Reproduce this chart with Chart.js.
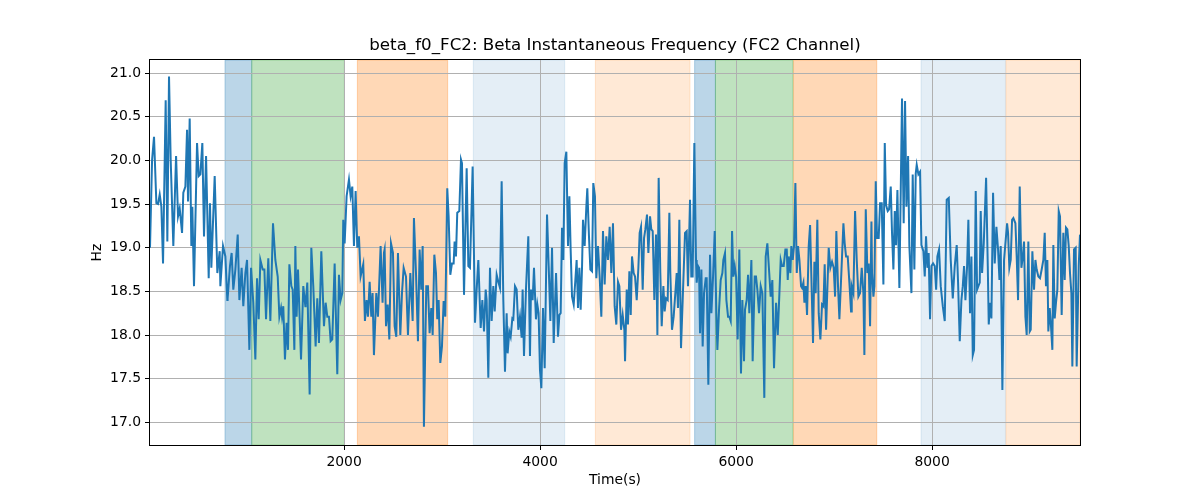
<!DOCTYPE html>
<html>
<head>
<meta charset="utf-8">
<script src="https://cdn.jsdelivr.net/npm/chart.js@4.4.1/dist/chart.umd.min.js"></script>
<style>
    html, body { margin: 0; padding: 0; background: #fff; }
    #wrap { width: 1200px; height: 500px; }
</style>
</head>
<body>
<div id="wrap"><canvas id="freqChart" width="1200" height="500"></canvas></div>
<script>
// sample times (s)
var timeSec = [
    20,41,61,85,102,119,136,153,180,197,214,231,258,286,306,323,347,360,381,398,408,425,442,452,469,500,517,534,554,571,592,619,632,646,680,707,731,738,765,789,809,
    812,836,853,870,891,915,932,955,972,993,1010,1034,1051,1074,1095,1112,1129,1146,1170,1187,1204,1227,1248,1275,1299,1323,1340,1357,1367,1380,1397,1414,1428,1442,1462,1476,1493,1503,1516,1530,1544,1561,1584,1605,
    1608,1625,1649,1666,1686,1710,1727,1744,1768,1795,1812,1829,1846,1863,1880,1904,1931,1948,1965,1982,1992,2006,2026,2050,2067,2084,2101,2118,2135,2152,2169,2196,2213,2230,2244,2261,2278,2291,2305,2329,2346,2373,2393,2407,
    2414,2428,2445,2462,2479,2499,2516,2533,2550,2574,2591,2608,2632,2652,2676,2700,2713,2734,2754,2771,2788,2802,2815,2839,2856,2873,2890,2904,2921,2938,2951,2965,2982,2999,3016,3033,3053,3067,3084,3101,3118,3128,3142,3155,3176,3193,
    3203,3224,3251,3268,3285,3312,3336,3353,3370,3394,3411,3428,3445,3455,3472,3489,3506,3523,3537,3557,3574,3591,3608,3625,3642,3659,3669,3686,3700,3717,3727,3744,3761,3778,3795,3812,3822,3836,3856,3880,3897,3907,3924,3938,3958,3972,3985,3999,
    4013,4030,4047,4071,4088,4105,4122,4139,4163,4183,4197,4210,4224,4237,4251,4268,4285,4299,4312,4326,4343,4360,4373,4387,4401,4414,4428,4438,4455,4472,4482,4499,4513,4530,4543,4560,4574,4591,4608,4625,4642,4659,4676,4693,4710,4727,4744,4761,4778,4795,
    4809,4826,4843,4860,4867,4884,4897,4911,4925,4938,4955,4969,4986,5003,5016,5030,5047,5061,5074,5091,5105,5122,5135,5149,5166,5183,5197,5210,5227,5241,5258,5271,5285,5302,5319,5329,5346,5363,5380,5394,5407,5421,5438,5455,5479,5496,5509,5530,5543,5557,5574,5591,
    5598,5612,5622,5632,5646,5659,5673,5690,5700,5717,5734,5748,5765,5782,5799,5809,5826,5843,5860,5870,5887,5901,5918,5931,5945,5959,5972,5986,6000,6016,6033,6050,6064,6081,6091,6108,6122,6135,6156,6169,6190,6203,6217,6234,6251,6268,6288,6302,6319,6336,6353,6370,6387,
    6408,6425,6442,6455,6469,6486,6503,6517,6527,6537,6554,6564,6578,6591,6605,6619,6632,6646,6663,6673,6687,6697,6710,6724,6741,6755,6768,6785,6799,6812,6829,6843,6860,6877,6891,6904,6918,6931,6945,6962,6979,6996,7010,7023,7040,7054,7074,7095,7108,7122,7139,7156,7173,
    7180,7197,7214,7231,7248,7265,7282,7299,7309,7323,7340,7353,7367,7381,7387,7401,7411,7425,7438,7455,7469,7486,7503,7517,7530,7547,7561,7578,7591,7605,7619,7632,7646,7666,7680,7693,7710,7724,7738,7755,7768,7789,7802,7819,7833,7843,7860,7877,7891,7911,7925,7938,7952,7965,7979,
    7993,8010,8027,8041,8054,8071,8088,8109,8129,8149,8170,8190,8211,8231,8251,8265,8282,8299,8313,8326,8340,8357,8370,8387,8401,8415,8428,8445,8459,8472,8486,8496,8510,8527,8551,8568,8578,8591,8605,8622,8639,8656,8673,8687,8700,8717,8734,8751,8765,8775,
    8788,8802,8816,8829,8850,8863,8877,8894,8911,8924,8938,8952,8965,8982,8996,9006,9023,9040,9054,9067,9084,9101,9118,9135,9149,9162,9176,9186,9200,9213,9227,9237,9251,9264,9278,9292,9305,9322,9339,9353,9366,9380,9394,9407,9421,9431,9448,9465,9475,9496,9509
];

// beta instantaneous frequency (Hz)
var freqHz = [
    19.0,20.0,20.27,19.51,19.5,19.61,19.47,18.82,20.69,19.07,20.96,20.01,19.02,20.05,19.36,19.45,19.17,19.63,19.70,20.35,19.53,20.48,19.02,19.47,18.56,20.20,19.82,19.84,20.20,19.13,20.05,18.65,19.51,18.77,19.82,18.71,18.96,18.56,19.02,18.90,18.40,
    18.42,18.79,18.94,18.52,18.75,19.15,18.40,18.77,18.33,18.71,18.86,17.83,18.77,18.37,17.72,18.65,18.18,18.86,18.75,18.75,18.18,18.88,18.16,19.28,18.86,18.67,18.21,18.31,18.21,18.33,17.72,18.14,17.83,18.81,18.56,18.52,17.83,19.02,18.21,18.75,18.29,17.72,18.56,18.33,
    18.35,18.60,17.32,19.00,18.56,17.87,18.42,17.91,18.96,18.10,18.37,18.21,18.21,17.93,17.95,18.82,17.55,18.69,18.40,18.48,19.32,19.05,19.59,19.78,19.59,19.70,19.02,19.65,19.00,19.13,18.67,18.81,18.16,18.40,18.21,18.61,18.21,18.48,17.77,18.48,18.21,19.02,18.37,18.94,
    18.98,18.10,18.35,17.95,19.05,18.94,18.10,17.98,18.94,18.00,18.48,18.77,18.67,18.00,18.71,18.16,19.34,18.71,17.93,18.98,18.52,19.02,16.95,18.56,18.56,18.02,18.31,18.00,18.92,18.71,18.18,18.40,17.68,17.87,18.39,18.21,19.68,19.36,18.69,18.82,18.82,19.07,18.90,19.40,19.42,20.01,
    19.97,18.46,19.91,18.79,18.77,19.93,18.14,18.52,18.86,18.08,18.40,18.04,18.52,18.40,17.51,18.77,18.16,18.56,18.27,18.69,18.61,18.54,19.76,18.40,17.58,18.25,17.79,18.04,17.98,18.19,18.18,18.56,18.52,18.06,18.21,17.97,18.52,17.76,18.52,19.13,17.76,18.52,18.40,18.77,18.18,18.35,18.25,17.60,
    17.39,18.31,17.62,19.38,18.79,18.16,19.00,17.91,18.71,17.98,18.23,18.25,19.23,18.86,19.97,20.10,19.02,19.59,18.98,18.44,18.35,18.63,18.86,18.31,18.77,18.29,18.77,19.32,19.02,19.47,19.68,19.13,18.75,18.73,19.74,19.59,18.65,19.02,18.67,18.21,19.19,18.58,19.13,18.86,19.24,18.71,19.28,18.33,18.12,18.61,
    18.56,18.06,18.23,18.06,17.70,18.52,18.12,18.73,18.23,18.90,18.71,18.67,18.40,18.77,19.17,19.24,18.52,19.11,19.21,19.38,18.94,19.36,19.21,19.19,18.40,19.15,18.00,19.80,18.71,18.10,18.56,18.27,18.42,18.40,19.40,18.71,18.06,18.21,18.48,18.71,18.31,19.32,17.85,18.40,19.17,19.19,18.56,19.55,18.67,18.67,20.20,18.86,
    18.60,18.79,18.77,18.02,18.75,17.87,18.48,18.65,18.65,17.43,18.92,18.25,18.67,19.19,18.25,17.83,18.29,18.63,18.71,18.86,18.94,18.40,18.21,18.21,18.16,19.19,18.67,18.79,18.67,17.95,18.98,17.56,18.40,17.70,18.29,18.40,18.69,18.25,18.86,17.70,18.67,18.67,18.52,18.25,18.56,18.48,17.28,18.90,19.05,18.75,18.44,18.63,17.62,
    18.37,18.00,18.48,18.86,18.79,18.79,18.98,18.98,18.63,18.90,18.71,19.02,18.86,19.02,19.74,18.71,19.02,18.86,18.56,18.54,18.60,18.37,18.56,18.23,19.02,19.26,18.67,17.91,18.84,18.48,19.32,18.25,17.95,18.35,18.33,18.81,18.06,18.52,19.00,18.77,18.84,18.77,18.44,19.19,18.56,18.18,18.71,19.28,19.05,18.90,18.90,18.60,18.27,
    18.56,18.48,19.42,18.86,18.44,18.48,18.77,18.48,17.77,19.44,18.71,18.82,18.10,19.30,18.71,18.44,18.56,19.76,19.11,19.11,19.51,19.51,18.58,20.20,19.49,19.42,19.44,19.70,19.17,18.75,19.42,19.03,19.66,18.54,19.65,20.71,19.28,20.68,19.47,20.05,19.02,18.48,19.84,18.75,19.85,19.95,19.84,19.87,19.03,18.96,18.67,19.13,18.77,18.94,18.18,
    18.79,18.82,18.79,18.52,18.90,18.98,18.56,18.33,18.16,19.55,19.57,18.86,18.42,18.79,19.03,18.60,17.93,18.40,18.56,18.79,18.40,18.79,19.32,18.25,18.90,17.77,17.83,19.65,18.52,18.56,18.60,19.42,18.71,19.05,19.80,18.79,18.12,18.37,18.19,19.63,18.82,19.24,18.98,18.63,19.02,17.37,18.86,19.09,19.28,19.17,
    18.77,18.86,19.32,19.34,19.28,18.90,18.40,19.70,18.77,18.88,19.07,18.21,18.00,19.07,18.04,18.06,18.96,18.52,18.86,18.75,18.67,18.65,18.75,18.86,19.17,18.56,18.86,18.04,18.31,18.10,17.83,19.03,18.19,18.37,18.52,19.42,19.36,18.23,19.17,18.63,19.23,19.21,19.02,18.71,18.48,17.64,18.98,19.00,17.64,18.79,19.15
];

// axis ticks
var timeTicks = [2000, 4000, 6000, 8000];
var hzTicks = [17.0, 17.5, 18.0, 18.5, 19.0, 19.5, 20.0, 20.5, 21.0];

// shaded phases (s)
var spanStart = [785, 1058, 2136, 3319, 4564, 5577, 5789, 6586, 7887, 8753];
var spanEnd   = [1058, 2003, 3057, 4251, 5530, 5789, 6581, 7435, 8748, 9509];
var spanColors = [
    'rgba(31, 119, 180, 0.3)', 'rgba(44, 160, 44, 0.3)', 'rgba(255, 127, 14, 0.3)',
    'rgba(31, 119, 180, 0.12)', 'rgba(255, 127, 14, 0.17)',
    'rgba(31, 119, 180, 0.3)', 'rgba(44, 160, 44, 0.3)', 'rgba(255, 127, 14, 0.3)',
    'rgba(31, 119, 180, 0.12)', 'rgba(255, 127, 14, 0.17)'
];

var points = [];
for (var i = 0; i < timeSec.length; i++) {
    points.push({ x: timeSec[i], y: freqHz[i] });
}

var fontFamily = '"DejaVu Sans", sans-serif';
Chart.defaults.color = '#000';
Chart.defaults.font.family = fontFamily;

var spansPlugin = {
    id: 'spans',
    beforeDraw: function (chart) {
        var ctx = chart.ctx, a = chart.chartArea, xs = chart.scales.x;
        ctx.save();
        ctx.beginPath();
        ctx.rect(a.left, a.top, a.right - a.left, a.bottom - a.top);
        ctx.clip();
        for (var k = 0; k < spanStart.length; k++) {
            var x0 = xs.getPixelForValue(spanStart[k]);
            var x1 = xs.getPixelForValue(spanEnd[k]);
            ctx.fillStyle = spanColors[k];
            ctx.fillRect(x0, a.top, x1 - x0, a.bottom - a.top);
            ctx.strokeStyle = spanColors[k];
            ctx.lineWidth = 1;
            ctx.strokeRect(x0, a.top, x1 - x0, a.bottom - a.top);
        }
        ctx.restore();
    },
    afterDraw: function (chart) {
        var ctx = chart.ctx, a = chart.chartArea;
        ctx.save();
        ctx.strokeStyle = '#000';
        ctx.lineWidth = 1;
        ctx.strokeRect(Math.round(a.left) - 0.5, Math.round(a.top) - 0.5,
            Math.round(a.right - a.left) + 1, Math.round(a.bottom - a.top) + 1);
        ctx.restore();
    }
};

function fixedTicks(list) {
    return function (scale) {
        scale.ticks = list.map(function (v) { return { value: v }; });
    };
}

var freqChart = new Chart(document.getElementById('freqChart'), {
    type: 'line',
    data: {
        datasets: [{
            label: 'beta_f0_FC2',
            data: points,
            borderColor: '#1f77b4',
            borderWidth: 2,
            pointRadius: 0,
            fill: false,
            tension: 0
        }]
    },
    options: {
        responsive: false,
        animation: false,
        devicePixelRatio: 1,
        layout: { padding: { left: 85, right: 120, top: 0, bottom: 7 } },
        plugins: {
            legend: { display: false },
            tooltip: { enabled: false },
            title: {
                display: true,
                text: 'beta_f0_FC2: Beta Instantaneous Frequency (FC2 Channel)',
                fullSize: false,
                color: '#000',
                font: { family: fontFamily, size: 16.7, weight: 'normal' },
                padding: { top: 36, bottom: 4 }
            }
        },
        scales: {
            x: {
                type: 'linear',
                min: 20,
                max: 9509,
                afterBuildTicks: fixedTicks(timeTicks),
                afterFit: function (s) { s.height = 48; },
                grid: { color: '#b0b0b0', lineWidth: 1, tickLength: 5, tickColor: '#000' },
                border: { display: false },
                ticks: {
                    padding: 4,
                    maxRotation: 0,
                    autoSkip: false,
                    font: { size: 13.9 },
                    callback: function (v) { return String(v); }
                },
                title: { display: true, text: 'Time(s)', font: { size: 13.9 } }
            },
            y: {
                min: 16.74,
                max: 21.15,
                afterBuildTicks: fixedTicks(hzTicks),
                afterFit: function (s) { s.width = 65; },
                grid: { color: '#b0b0b0', lineWidth: 1, tickLength: 5, tickColor: '#000' },
                border: { display: false },
                ticks: {
                    padding: 4,
                    autoSkip: false,
                    font: { size: 13.9 },
                    callback: function (v) { return Number(v).toFixed(1); }
                },
                title: { display: true, text: 'Hz', font: { size: 13.9 } }
            }
        }
    },
    plugins: [spansPlugin]
});
</script>
</body>
</html>
